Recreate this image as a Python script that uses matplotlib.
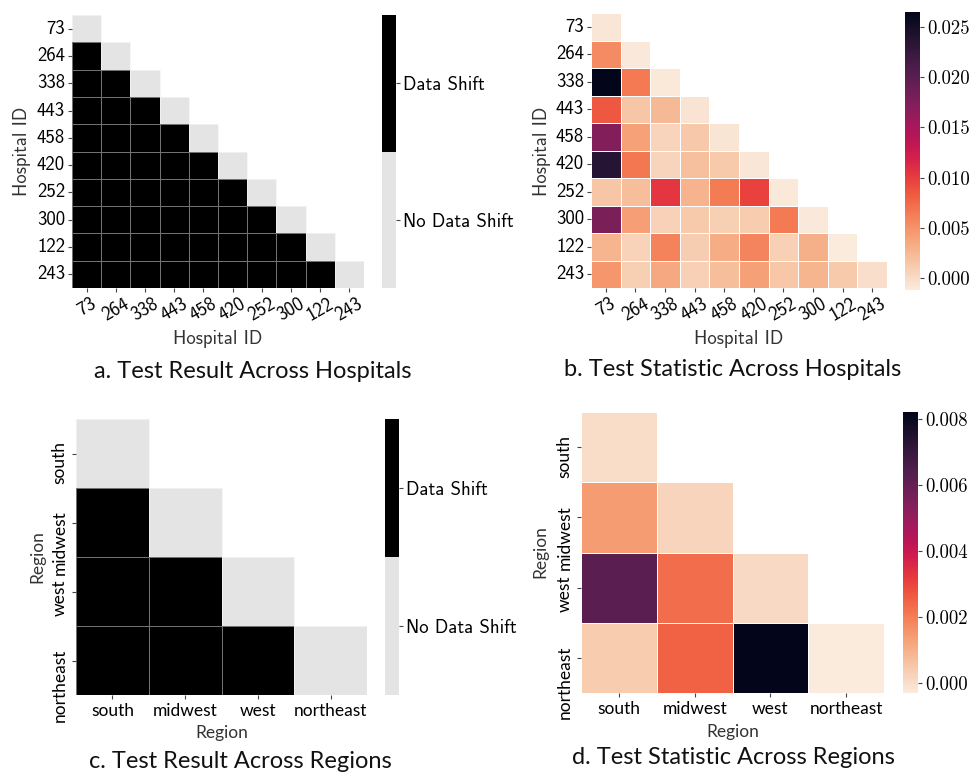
import numpy as np
import matplotlib.pyplot as plt
import matplotlib.transforms as mtransforms
import seaborn as sns
from matplotlib.colors import ListedColormap
from matplotlib.ticker import FormatStrFormatter

plt.rcParams['axes.unicode_minus'] = False

hospitals = ['73', '264', '338', '443', '458', '420', '252', '300', '122', '243']
regions = ['south', 'midwest', 'west', 'northeast']

# lower triangle (incl. diagonal) of the pairwise results, row by row
hosp_shift_rows = [
    [0],
    [1, 0],
    [1, 1, 0],
    [1, 1, 1, 0],
    [1, 1, 1, 1, 0],
    [1, 1, 1, 1, 1, 0],
    [1, 1, 1, 1, 1, 1, 0],
    [1, 1, 1, 1, 1, 1, 1, 0],
    [1, 1, 1, 1, 1, 1, 1, 1, 0],
    [1, 1, 1, 1, 1, 1, 1, 1, 1, 0],
]
hosp_stat_rows = [
    [-0.0008],
    [0.0055, -0.0010],
    [0.0265, 0.0065, -0.0009],
    [0.0085, 0.0016, 0.0024, -0.0006],
    [0.0174, 0.0041, 0.0005, 0.0013, -0.0007],
    [0.0237, 0.0066, 0.0005, 0.0020, 0.0012, -0.0008],
    [0.0016, 0.0021, 0.0104, 0.0029, 0.0064, 0.0097, -0.0009],
    [0.0178, 0.0043, 0.0007, 0.0012, 0.0009, 0.0011, 0.0065, -0.0010],
    [0.0028, 0.0006, 0.0060, 0.0010, 0.0033, 0.0059, 0.0008, 0.0031, -0.0012],
    [0.0048, 0.0009, 0.0035, 0.0008, 0.0021, 0.0042, 0.0014, 0.0027, 0.0012, -0.0003],
]
region_shift_rows = [
    [0],
    [1, 0],
    [1, 1, 0],
    [1, 1, 1, 0],
]
region_stat_rows = [
    [0.0000],
    [0.0014, 0.0002],
    [0.0062, 0.0023, 0.0001],
    [0.0004, 0.0025, 0.0082, -0.0003],
]


def to_matrix(rows):
    n = len(rows)
    m = np.full((n, n), np.nan)
    for i, r in enumerate(rows):
        m[i, :len(r)] = r
    return m


W, H = 975, 776
fig = plt.figure(figsize=(W / 100, H / 100), dpi=100)


def box(x0, y0, x1, y1):
    return [x0 / W, 1 - y1 / H, (x1 - x0) / W, (y1 - y0) / H]


def fpos(x, y):
    return x / W, 1 - y / H


bin_cmap = ListedColormap(['#e4e4e4', '#000000'])
cm_sans = 'cmss10'
cm_serif = 'cmr10'
hum = 'Lato'
fs = 13.5
fs_reg = 12.5


def shift_map(ax, cax, data, labels):
    sns.heatmap(data, ax=ax, cbar_ax=cax, cmap=bin_cmap, vmin=0, vmax=1,
                linewidths=0.6, linecolor=(1, 1, 1, 0.45),
                xticklabels=labels, yticklabels=labels)
    cax.set_yticks([0.25, 0.75])
    cax.set_yticklabels(['No Data Shift', 'Data Shift'], fontfamily=cm_sans, fontsize=fs)
    cax.tick_params(length=3, width=0.8, pad=2, color='#444444')


def stat_map(ax, cax, data, labels, ticks):
    sns.heatmap(data, ax=ax, cbar_ax=cax, cmap='rocket_r',
                linewidths=0.5, linecolor='white',
                xticklabels=labels, yticklabels=labels)
    cax.set_yticks(ticks)
    cax.yaxis.set_major_formatter(FormatStrFormatter('%.3f'))
    for t in cax.get_yticklabels():
        t.set_fontfamily(cm_serif)
        t.set_fontsize(fs)
    cax.tick_params(length=3, width=0.8, pad=2, color='#444444')


def hosp_ticks(ax):
    ax.tick_params(length=3, width=0.8, pad=2, color='#444444')
    ax.set_xticklabels(hospitals, rotation=30, ha='center', fontfamily=cm_sans, fontsize=fs)
    ax.set_yticklabels(hospitals, rotation=0, va='center', fontfamily=cm_sans, fontsize=fs)


def region_ticks(ax):
    ax.tick_params(length=3, width=0.8, pad=3, color='#444444')
    ax.set_xticklabels(regions, rotation=0, ha='center', fontfamily=hum, fontsize=fs_reg)
    ax.set_yticklabels(regions, rotation=90, va='top', ha='right', fontfamily=hum, fontsize=fs_reg)
    # vertical labels hang from just above their tick
    up = mtransforms.ScaledTranslation(0, 0.12, fig.dpi_scale_trans)
    for t in ax.get_yticklabels():
        t.set_transform(t.get_transform() + up)


def labels(ax, text, family, size, xlab, ylab):
    ax.set_xlabel(text, fontfamily=family, fontsize=size, color='#333333')
    ax.set_ylabel(text, fontfamily=family, fontsize=size, color='#333333')
    ax.xaxis.label.set_va('center')
    ax.yaxis.label.set_va('center')
    ax.xaxis.set_label_coords(*fpos(*xlab), transform=fig.transFigure)
    ax.yaxis.set_label_coords(*fpos(*ylab), transform=fig.transFigure)


# a. test result, hospitals
ax_a = fig.add_axes(box(72, 15, 364, 288))
cax_a = fig.add_axes(box(382, 15, 396, 288))
shift_map(ax_a, cax_a, to_matrix(hosp_shift_rows), hospitals)
hosp_ticks(ax_a)
labels(ax_a, 'Hospital ID', cm_sans, fs, (218, 339), (22, 151))

# b. test statistic, hospitals
ax_b = fig.add_axes(box(591, 13, 887, 288))
cax_b = fig.add_axes(box(905, 12, 920, 290))
stat_map(ax_b, cax_b, to_matrix(hosp_stat_rows), hospitals,
         [0.0, 0.005, 0.010, 0.015, 0.020, 0.025])
hosp_ticks(ax_b)
labels(ax_b, 'Hospital ID', cm_sans, fs, (739, 339), (542, 151))

# c. test result, regions
ax_c = fig.add_axes(box(76, 419, 367, 695))
cax_c = fig.add_axes(box(385, 419, 399, 695))
shift_map(ax_c, cax_c, to_matrix(region_shift_rows), regions)
region_ticks(ax_c)
labels(ax_c, 'Region', hum, fs_reg, (222, 733), (37, 557))

# d. test statistic, regions
ax_d = fig.add_axes(box(581, 412, 884, 693))
cax_d = fig.add_axes(box(903, 412, 918, 693))
stat_map(ax_d, cax_d, to_matrix(region_stat_rows), regions,
         [0.0, 0.002, 0.004, 0.006, 0.008])
region_ticks(ax_d)
labels(ax_d, 'Region', hum, fs_reg, (733, 732), (540, 552))

captions = [
    ('a. Test Result Across Hospitals', 253, 371),
    ('b. Test Statistic Across Hospitals', 733, 369),
    ('c. Test Result Across Regions', 240, 762),
    ('d. Test Statistic Across Regions', 733, 757),
]
for text, x, y in captions:
    fig.text(*fpos(x, y), text, ha='center', va='center', fontfamily=hum, fontsize=17, color='#111111')

plt.savefig('out.png', dpi=100)
